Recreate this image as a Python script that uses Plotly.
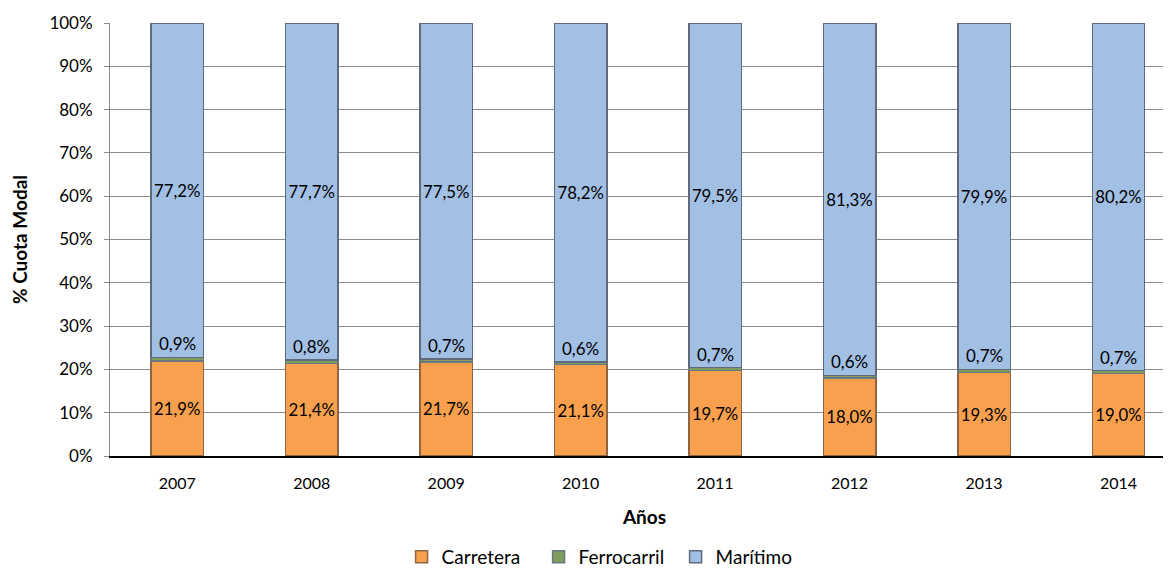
import plotly.graph_objects as go

years = ["2007", "2008", "2009", "2010", "2011", "2012", "2013", "2014"]
carretera = [21.9, 21.4, 21.7, 21.1, 19.7, 18.0, 19.3, 19.0]
ferrocarril = [0.9, 0.8, 0.7, 0.6, 0.7, 0.6, 0.7, 0.7]
maritimo = [77.2, 77.7, 77.5, 78.2, 79.5, 81.3, 79.9, 80.2]

def fmt(v):
    return f"{v:.1f}".replace(".", ",") + "%"

FONT = "Lato, Calibri, Carlito, sans-serif"
BW = 0.39
LBL = 17

fig = go.Figure()
fig.add_trace(go.Bar(
    name="Carretera", x=years, y=carretera, width=BW,
    marker=dict(color="#F9A04E", line=dict(color="#8f6440", width=1.5)),
    text=[fmt(v) for v in carretera], textposition="inside",
    insidetextanchor="middle", textangle=0,
    textfont=dict(size=LBL, color="black", family=FONT),
))
fig.add_trace(go.Bar(
    name="Ferrocarril", x=years, y=ferrocarril, width=BW,
    marker=dict(color="#7e9c5a", line=dict(color="#6b7686", width=1.5)),
))
fig.add_trace(go.Bar(
    name="Marítimo", x=years, y=maritimo, width=BW,
    marker=dict(color="#A2BFE4", line=dict(color="#5f6b7c", width=1.5)),
    text=[fmt(v) for v in maritimo], textposition="inside",
    insidetextanchor="middle", textangle=0,
    textfont=dict(size=LBL, color="black", family=FONT),
))

for i, (c, f) in enumerate(zip(carretera, ferrocarril)):
    fig.add_annotation(x=i, y=c + f, xref="x", yref="y", text=fmt(f),
                       showarrow=False, yanchor="bottom", yshift=1,
                       font=dict(size=LBL, color="black", family=FONT))

fig.update_layout(
    width=1171, height=568,
    margin=dict(l=102, r=0, t=15, b=119),
    barmode="stack",
    plot_bgcolor="white", paper_bgcolor="white",
    font=dict(family=FONT, size=16, color="black"),
    showlegend=True,
    legend=dict(orientation="h", x=0.465, xanchor="center", y=-0.233,
                yanchor="middle", font=dict(size=19, family=FONT),
                itemwidth=30, traceorder="normal",
                entrywidth=92, entrywidthmode="pixels"),
)
fig.update_xaxes(
    type="category", range=[-0.5, 7.45], automargin=False,
    showline=True, linecolor="black", linewidth=1.5,
    ticks="", showgrid=False, ticklabelstandoff=12,
    tickfont=dict(size=16, family=FONT),
    title=dict(text="<b>Años</b>", font=dict(size=19, family=FONT), standoff=20),
)
fig.update_yaxes(
    range=[0, 100], dtick=10, ticksuffix="%", automargin=False,
    showgrid=True, gridcolor="#8c8c8c", gridwidth=1,
    showline=True, linecolor="#8c8c8c", linewidth=1,
    ticks="outside", ticklen=5, tickcolor="#8c8c8c", ticklabelstandoff=8,
    tickfont=dict(size=17, family=FONT),
    title=dict(text="<b>% Cuota Modal</b>", font=dict(size=19, family=FONT), standoff=20),
    zeroline=False,
)

fig.write_html("out.html")
